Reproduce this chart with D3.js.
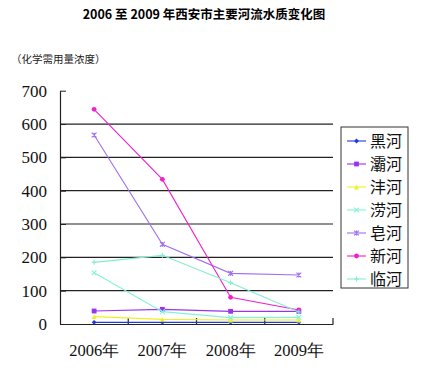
<!DOCTYPE html>
<html><head><meta charset="utf-8">
<script src="https://cdn.jsdelivr.net/npm/d3@7"></script>
<style>body{margin:0;background:#fff}svg{display:block}</style>
</head><body>
<svg id="c" width="430" height="373"></svg>
<script>
const years = ["2006年","2007年","2008年","2009年"];
const rivers = ["黑河","灞河","沣河","涝河","皂河","新河","临河"];
const heihe  = [5, 5, 5, 5];
const bahe   = [39, 44, 38, 38];
const fenghe = [22, 14, 12, 12];
const laohe  = [154, 37, 19, 20];
const zaohe  = [567, 239, 152, 147];
const xinhe  = [644, 434, 80, 42];
const linhe  = [185, 206, 124, 36];
const yTicks = [0,100,200,300,400,500,600,700];
const colors = ["#2038e0","#9933ee","#f0f020","#80f5d5","#a070f0","#ee22cc","#80eed0"];
const markers = ["diamond","square","triangle","x","star","circle","plus"];
const seriesVals = [heihe,bahe,fenghe,laohe,zaohe,xinhe,linhe];

const serif = "'Liberation Serif', serif";
const svg = d3.select("#c");
const x = d3.scaleBand().domain(years).range([60,333]);
const y = d3.scaleLinear().domain([0,700]).range([324,90.7]);

svg.append("text").attr("x",204).attr("y",19).attr("text-anchor","middle")
  .style("font-family","'Noto Sans CJK SC'").style("font-weight","bold").style("font-size","12.5px")
  .text("2006 至 2009 年西安市主要河流水质变化图");
svg.append("text").attr("x",11).attr("y",63)
  .style("font-family","'Noto Sans CJK SC'").style("font-size","10.5px").attr("fill","#222")
  .text("（化学需用量浓度）");

// gridlines
svg.append("g").selectAll("line").data(yTicks.filter(d=>d>0&&d<700)).join("line")
  .attr("x1",60).attr("x2",333).attr("y1",d=>y(d)).attr("y2",d=>y(d))
  .attr("stroke","#222").attr("stroke-width",1.2);

// y axis
const ya = svg.append("g").attr("transform","translate(60,0)")
  .call(d3.axisLeft(y).tickValues(yTicks).tickSize(-6).tickPadding(13).tickSizeOuter(0))
  .attr("font-family", serif).attr("font-size", 17);
ya.select(".domain").attr("stroke","#222").attr("stroke-width",1.2);
ya.selectAll(".tick line").attr("stroke","#222");
ya.selectAll("text").attr("fill","#111");

// x axis
const xa = svg.append("g").attr("transform","translate(0,324)")
  .call(d3.axisBottom(x).tickSize(0).tickPadding(20))
  .attr("font-family", serif).attr("font-size", 16.5);
xa.select(".domain").attr("stroke","#222").attr("stroke-width",1.2);
xa.selectAll("text").attr("fill","#111");
svg.append("g").selectAll("line").data(years.slice(1).concat(["end"])).join("line")
  .attr("x1",d=>d==="end"?333:x(d)).attr("x2",d=>d==="end"?333:x(d))
  .attr("y1",324).attr("y2",318).attr("stroke","#222").attr("stroke-width",1.2);

function drawMarker(g, type, cx, cy, color){
  const s = 2.4;
  if(type==="diamond") g.append("path").attr("d",`M${cx},${cy-s}L${cx+s},${cy}L${cx},${cy+s}L${cx-s},${cy}Z`).attr("fill",color);
  else if(type==="square") g.append("rect").attr("x",cx-s).attr("y",cy-s).attr("width",2*s).attr("height",2*s).attr("fill",color);
  else if(type==="triangle") g.append("path").attr("d",`M${cx},${cy-s}L${cx+s},${cy+s}L${cx-s},${cy+s}Z`).attr("fill",color);
  else if(type==="circle") g.append("circle").attr("cx",cx).attr("cy",cy).attr("r",s).attr("fill",color);
  else {
    let d = "";
    if(type==="x"||type==="star") d += `M${cx-s},${cy-s}L${cx+s},${cy+s}M${cx-s},${cy+s}L${cx+s},${cy-s}`;
    if(type==="star") d += `M${cx},${cy-s}L${cx},${cy+s}`;
    if(type==="plus") d += `M${cx-s},${cy}L${cx+s},${cy}M${cx},${cy-s}L${cx},${cy+s}`;
    g.append("path").attr("d",d).attr("stroke",color).attr("stroke-width",1.1).attr("fill","none");
  }
}

const line = d3.line().x((d,i)=>x(years[i])+x.bandwidth()/2).y(d=>y(d));
seriesVals.forEach((vals,k)=>{
  const g = svg.append("g");
  g.append("path").attr("d",line(vals)).attr("fill","none").attr("stroke",colors[k]).attr("stroke-width",1.1);
  vals.forEach((v,i)=>drawMarker(g, markers[k], x(years[i])+x.bandwidth()/2, y(v), colors[k]));
});

// legend
const lg = svg.append("g");
lg.append("rect").attr("x",341).attr("y",127).attr("width",67).attr("height",161)
  .attr("fill","#fff").attr("stroke","#333").attr("stroke-width",1);
rivers.forEach((r,k)=>{
  const cy = 141 + k*23;
  lg.append("line").attr("x1",347).attr("x2",366).attr("y1",cy).attr("y2",cy).attr("stroke",colors[k]).attr("stroke-width",1.1);
  drawMarker(lg, markers[k], 356.5, cy, colors[k]);
  lg.append("text").attr("x",370).attr("y",cy).attr("dy","0.36em")
    .style("font-family","'Noto Sans CJK SC'").style("font-size","16px").attr("fill","#111").text(r);
});
</script>
</body></html>
